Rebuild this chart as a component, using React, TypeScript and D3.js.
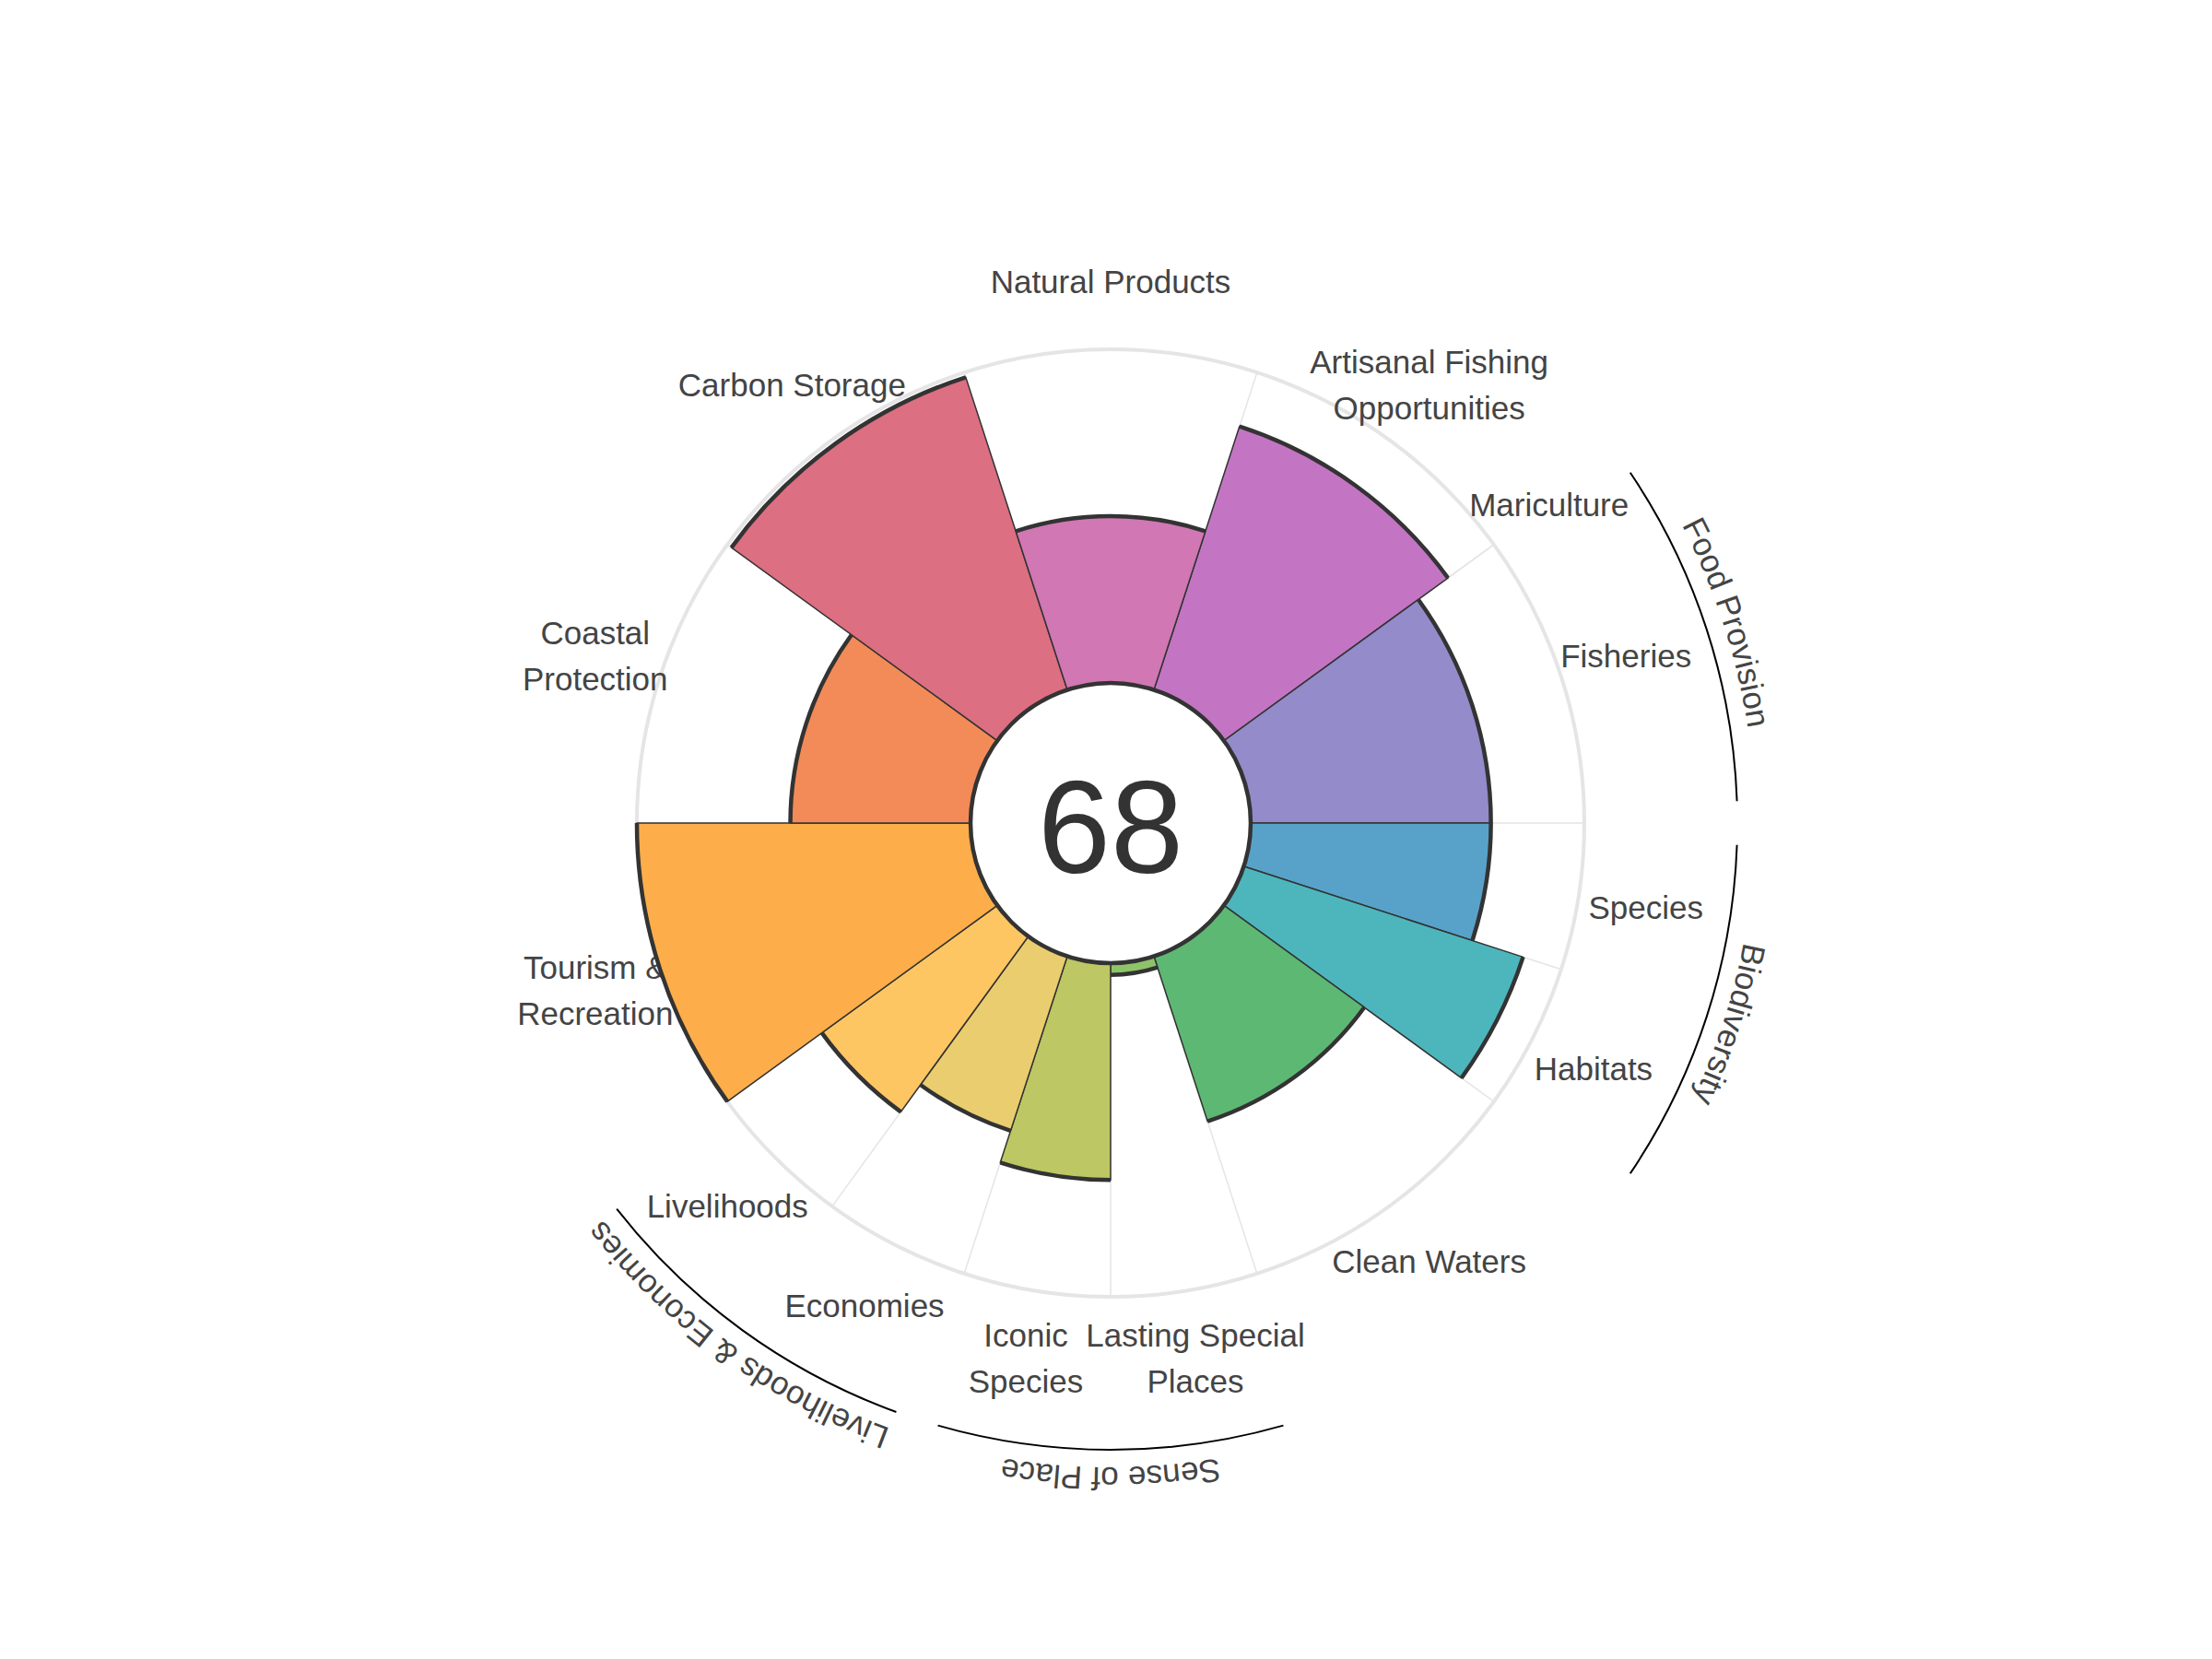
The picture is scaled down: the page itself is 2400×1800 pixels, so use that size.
import React from 'react';
import * as d3 from 'd3';

// goals listed clockwise starting at the Artisanal Fishing sector
const goals = [
  'Artisanal Fishing\nOpportunities',
  'Mariculture',
  'Fisheries',
  'Species',
  'Habitats',
  'Clean Waters',
  'Lasting Special\nPlaces',
  'Iconic\nSpecies',
  'Economies',
  'Livelihoods',
  'Tourism &\nRecreation',
  'Coastal\nProtection',
  'Carbon Storage',
  'Natural Products',
];
const scores = [83, 0, 72, 72, 88, 52, 3.5, 65, 55, 65, 100, 54, 98.5, 50];
const weights = [1, 0, 1, 0.5, 0.5, 1, 0.5, 0.5, 0.5, 0.5, 1, 1, 1, 1];
const colors = [
  '#c375c4', '#a67fc8', '#938bca', '#58a2c9', '#4db6bd', '#5db873', '#8fc36a',
  '#bdc763', '#eacd6f', '#fdc663', '#fdae4a', '#f28b57', '#dc6f81', '#d077b4',
];

const groupNames = ['Food Provision', 'Biodiversity', 'Sense of Place', 'Livelihoods & Economies'];
const groupMembers = [['Mariculture', 'Fisheries'], ['Species', 'Habitats'],
  ['Lasting Special\nPlaces', 'Iconic\nSpecies'], ['Economies', 'Livelihoods']];

const overall = 68;

export default function App() {
  const width = 2400;
  const height = 1800;
  const cx = 1205;
  const cy = 893;
  const inner = 152;
  const outer = 514;
  const font = '"Liberation Sans", Arial, sans-serif';

  const r = d3.scaleLinear().domain([0, 100]).range([inner, outer]);
  const start = (18 * Math.PI) / 180;
  const pie = d3.pie<number>().sort(null).value((d, i) => weights[i])
    .startAngle(start).endAngle(start + 2 * Math.PI);
  const slices = pie(scores);

  const arc = d3.arc<any>()
    .innerRadius(inner)
    .outerRadius((d) => r(d.data));

  const pt = (a: number, rad: number) => [cx + rad * Math.sin(a), cy - rad * Math.cos(a)];

  // clockwise arc at a given radius (d3 angles, 0 = top)
  const outerEdge = (a0: number, a1: number, rad: number) => {
    const p = d3.path();
    const [x0, y0] = pt(a0, rad);
    p.moveTo(x0, y0);
    p.arc(cx, cy, rad, a0 - Math.PI / 2, a1 - Math.PI / 2, false);
    return p.toString();
  };

  const pad = (2 * Math.PI) / 180;
  const groups = groupNames.map((name, gi) => {
    const ss = slices.filter((s, i) => groupMembers[gi].includes(goals[i]));
    const a0 = d3.min(ss, (s) => s.startAngle)! + pad;
    const a1 = d3.max(ss, (s) => s.endAngle)! - pad;
    return { name, a0, a1 };
  });

  return (
    <svg width={width} height={height} style={{ position: 'absolute', left: 0, top: 0, background: '#fff' }}>
      {/* grid */}
      <circle cx={cx} cy={cy} r={outer} fill="none" stroke="#e5e5e5" strokeWidth={4} />
      {slices.map((s, i) => {
        const [x0, y0] = pt(s.startAngle, inner);
        const [x1, y1] = pt(s.startAngle, outer);
        return <line key={i} x1={x0} y1={y0} x2={x1} y2={y1} stroke="#e5e5e5" strokeWidth={1.5} />;
      })}

      {/* goal labels (under the petals) */}
      {slices.map((s, i) => {
        const mid = (s.startAngle + s.endAngle) / 2;
        const [lx, ly] = pt(mid, 588);
        const lines = goals[i].split('\n');
        return (
          <text key={i} x={lx} y={ly} textAnchor="middle" fontFamily={font} fontSize={35} fill="#444">
            {lines.map((t, j) => (
              <tspan key={j} x={lx} y={ly + (j - (lines.length - 1) / 2) * 50 + 12.5}>{t}</tspan>
            ))}
          </text>
        );
      })}

      {/* petals */}
      <g transform={`translate(${cx},${cy})`}>
        {slices.map((s, i) => s.endAngle - s.startAngle > 0 && (
          <path key={i} d={arc(s)!} fill={colors[i]} stroke="#333" strokeWidth={1.5} />
        ))}
      </g>
      {slices.map((s, i) => s.endAngle - s.startAngle > 0 && (
        <path key={i} d={outerEdge(s.startAngle, s.endAngle, r(s.data))} fill="none" stroke="#333" strokeWidth={4.5} />
      ))}

      {/* centre */}
      <circle cx={cx} cy={cy} r={inner} fill="#fff" stroke="#333" strokeWidth={4.5} />
      <text x={cx} y={cy + 54} textAnchor="middle" fontFamily={font} fontSize={142} fill="#333">{overall}</text>

      {/* goal groups */}
      {groups.map((g, i) => (
        <g key={i}>
          <path d={outerEdge(g.a0, g.a1, 680)} fill="none" stroke="#000" strokeWidth={2} />
          <path id={`grp${i}`} d={outerEdge(g.a0, g.a1, 699)} fill="none" stroke="none" />
          <text fontFamily={font} fontSize={35} fill="#444">
            <textPath href={`#grp${i}`} startOffset="50%" textAnchor="middle">{g.name}</textPath>
          </text>
        </g>
      ))}
    </svg>
  );
}
